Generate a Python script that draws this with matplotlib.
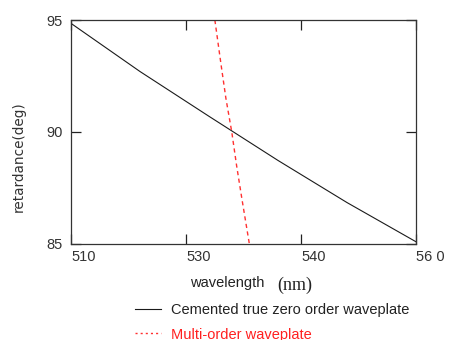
import matplotlib
matplotlib.use("Agg")
import matplotlib.pyplot as plt

# Data
zero_wl = [510, 520, 530, 540, 550, 560]
zero_ret = [94.85, 92.7, 90.7, 88.73, 86.85, 85.1]

multi_wl = [530.85, 531.75, 532.45, 533.3, 534.0, 534.75, 535.85]
multi_ret = [95.0, 93.0, 91.5, 90.0, 88.5, 87.05, 85.0]

xtick_pos = [510, 526.67, 543.33, 560]
xtick_labels = ["510", "530", "540", "56 0"]
ytick_pos = [85, 90, 95]
ytick_labels = ["85", "90", "95"]

label_zero = "Cemented true zero order waveplate"
label_multi = "Multi-order waveplate"

fig = plt.figure(figsize=(4.49, 3.40), dpi=100)
ax = fig.add_axes([71/449, 96/340, 345/449, 224/340])

l1, = ax.plot(zero_wl, zero_ret, color="#1a1a1a", lw=0.8, label=label_zero)
l2, = ax.plot(multi_wl, multi_ret, color="#ff3030", lw=1.0,
              linestyle=(0, (3, 2.5)), label=label_multi)

ax.set_xlim(510, 560)
ax.set_ylim(85, 95)

tick_color = "#333333"
ax.set_xticks(xtick_pos)
ax.set_xticklabels(xtick_labels, ha="left", fontfamily="Liberation Sans",
                   fontsize=10.5, color=tick_color)
ax.set_yticks(ytick_pos)
ax.set_yticklabels(ytick_labels, fontfamily="Liberation Sans",
                   fontsize=10.5, color=tick_color)
ax.tick_params(axis="both", direction="in", length=7, width=0.9,
               color="#222222", top=True, right=True)
ax.tick_params(axis="x", pad=4)
ax.tick_params(axis="y", pad=6)
for s in ax.spines.values():
    s.set_color("#333333")
    s.set_linewidth(0.9)

fig.text(19/449, 1 - 157/340, "retardance(deg)", fontfamily="DejaVu Sans",
         fontsize=9.8, color="#333333", rotation=90, ha="center", va="center")

fig.text(190/449, 1 - 283/340, "wavelength", fontfamily="Liberation Sans",
         fontsize=10.5, color="#222222", ha="left", va="center")
fig.text(277/449, 1 - 285/340, "(nm)", fontfamily="Liberation Serif",
         fontsize=13, color="#222222", ha="left", va="center")

leg = fig.legend(handles=[l1, l2], loc="upper left",
                 bbox_to_anchor=(135/449, 1 - 303/340), frameon=False,
                 prop={"family": "Liberation Sans", "size": 10.5},
                 handlelength=1.75, handletextpad=0.75, labelspacing=0.72,
                 borderpad=0, borderaxespad=0)
texts = leg.get_texts()
texts[0].set_color("#222222")
texts[1].set_color("#ff2020")
leg.get_lines()[1].set_linestyle((0, (1.5, 2.2)))

fig.savefig("out.png", dpi=100)
